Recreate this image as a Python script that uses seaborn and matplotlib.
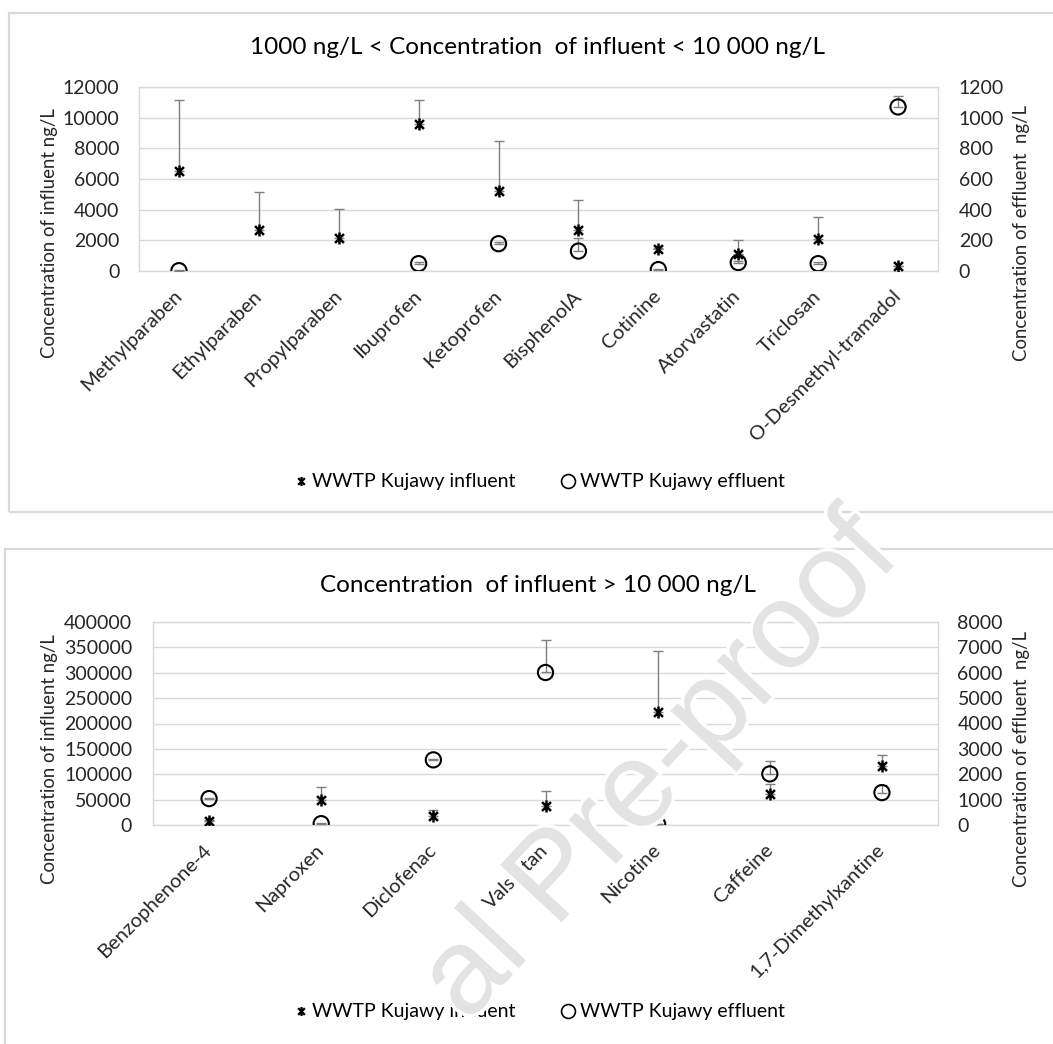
import numpy as np
import pandas as pd
import matplotlib
matplotlib.use("Agg")
import matplotlib.pyplot as plt
import seaborn as sns
from matplotlib.path import Path
from matplotlib.lines import Line2D
from matplotlib.patches import Rectangle
import matplotlib.patheffects as pe

# ---------------- data ----------------
top_title = "1000 ng/L < Concentration  of influent < 10 000 ng/L"
top_categories = ["Methylparaben", "Ethylparaben", "Propylparaben", "Ibuprofen", "Ketoprofen",
                  "BisphenolA", "Cotinine", "Atorvastatin", "Triclosan", "O-Desmethyl-tramadol"]
top_influent = [6500, 2700, 2170, 9580, 5250, 2650, 1450, 1130, 2090, 300]
top_influent_err = [4650, 2430, 1870, 1550, 3250, 2000, 60, 870, 1430, 50]
top_effluent = [2, np.nan, np.nan, 48, 178, 130, 9, 55, 48, 1070]
top_effluent_err = [5, np.nan, np.nan, 10, 10, 83, 5, 10, 10, 73]
top_left_ticks = [0, 2000, 4000, 6000, 8000, 10000, 12000]
top_right_ticks = [0, 200, 400, 600, 800, 1000, 1200]

bottom_title = "Concentration  of influent > 10 000 ng/L"
bottom_categories = ["Benzophenone-4", "Naproxen", "Diclofenac", "Valsartan", "Nicotine",
                     "Caffeine", "1,7-Dimethylxantine"]
bottom_influent = [8500, 48600, 17700, 36900, 223400, 61700, 115600]
bottom_influent_err = [1500, 26300, 12000, 29800, 119100, 19200, 22000]
bottom_effluent = [1040, 53, 2567, 6010, 26, 2014, 1277]
bottom_effluent_err = [20, 20, 50, 1270, 20, 520, 300]
bottom_left_ticks = [0, 50000, 100000, 150000, 200000, 250000, 300000, 350000, 400000]
bottom_right_ticks = [0, 1000, 2000, 3000, 4000, 5000, 6000, 7000, 8000]

left_label = "Concentration of influent ng/L"
right_label = "Concentration of effluent  ng/L"
series_names = ["WWTP Kujawy influent", "WWTP Kujawy effluent"]
watermark = "al Pre-proof"

# ---------------- style ----------------
sns.set_theme(style="white")
plt.rcParams["font.family"] = ["Lato", "DejaVu Sans"]
plt.rcParams["text.color"] = "black"

GRID = "#d9d9d9"
ERR = "#7f7f7f"
star = Path([(-1, -1), (1, 1), (-1, 1), (1, -1), (0, -1.35), (0, 1.35)],
            [Path.MOVETO, Path.LINETO] * 3)

fig = plt.figure(figsize=(10.53, 10.44), dpi=100)
W, H = 1053, 1044


def px_rect(l, t, r, b):
    return [l / W, 1 - b / H, (r - l) / W, (b - t) / H]


# outer chart boxes
fig.patches.append(Rectangle((9 / W, 1 - 512 / H), 1.2, (512 - 13) / H, transform=fig.transFigure,
                             fill=False, edgecolor=GRID, linewidth=1.6, zorder=0))
fig.patches.append(Rectangle((5 / W, -0.2), 1.2, 0.2 + 1 - 549 / H, transform=fig.transFigure,
                             fill=False, edgecolor=GRID, linewidth=1.6, zorder=0))


def panel(rect, cats, infl, infl_err, effl, effl_err, lticks, rticks, title, title_y,
          legend_y, ylab_x_px, ylab_y_px, lpad, rpad):
    ax = fig.add_axes(px_rect(*rect))
    l, t, r, b = rect
    n = len(cats)
    x = np.arange(n)
    df = pd.DataFrame({"x": x, "infl": infl, "effl": effl})
    ax.errorbar(x, infl, yerr=[np.zeros(n), infl_err], fmt="none", ecolor=ERR,
                elinewidth=1.0, capsize=3.5, capthick=1.0, zorder=2)
    sns.scatterplot(data=df, x="x", y="infl", ax=ax, marker=star, s=75, color="black",
                    edgecolor="black", linewidth=1.8, zorder=3, legend=False)
    ax.set_xlim(-0.5, n - 0.5)
    ax.set_ylim(lticks[0], lticks[-1])
    ax.set_yticks(lticks)
    ax.set_yticklabels([str(t_) for t_ in lticks], fontsize=14)
    ax.set_xticks(x)
    ax.set_xticklabels(cats, rotation=45, ha="right", va="center", rotation_mode="anchor",
                       fontsize=14.5)
    ax.tick_params(axis="x", length=0, pad=16)
    ax.tick_params(axis="y", length=0, pad=lpad)
    ax.grid(axis="y", color=GRID, linewidth=1.0)
    ax.set_axisbelow(True)
    for s in ax.spines.values():
        s.set_color(GRID)
        s.set_linewidth(1.0)
    ax.set_xlabel("")
    ax.set_ylabel(left_label, fontsize=13.4)
    yc = (b - ylab_y_px) / (b - t)
    ax.yaxis.set_label_coords((ylab_x_px[0] - l) / (r - l), yc)

    ax2 = ax.twinx()
    ax2.errorbar(x, effl, yerr=[np.zeros(n), effl_err], fmt="none", ecolor=ERR,
                 elinewidth=1.0, capsize=3.5, capthick=1.0, zorder=2)
    sns.scatterplot(data=df, x="x", y="effl", ax=ax2, marker="o", s=120, facecolor="none",
                    edgecolor="black", linewidth=1.5, zorder=3, legend=False)
    ax2.set_ylim(rticks[0], rticks[-1])
    ax2.set_yticks(rticks)
    ax2.set_yticklabels([str(t_) for t_ in rticks], fontsize=14)
    ax2.tick_params(axis="y", length=0, pad=rpad)
    ax2.grid(False)
    for s in ax2.spines.values():
        s.set_visible(False)
    ax2.set_ylabel(right_label, fontsize=13.4)
    ax2.yaxis.set_label_coords((ylab_x_px[1] - l) / (r - l), yc)
    ax2.set_xlabel("")

    fig.text(538 / W, 1 - title_y / H, title, ha="center", va="center", fontsize=17.5)
    handles = [Line2D([], [], linestyle="none", marker=star, markersize=6.5, markeredgewidth=1.6,
                      color="black"),
               Line2D([], [], linestyle="none", marker="o", markersize=10, markeredgewidth=1.2,
                      markerfacecolor="none", markeredgecolor="black")]
    fig.legend(handles, series_names, loc="center", bbox_to_anchor=(538 / W, 1 - legend_y / H),
               ncol=2, frameon=False, fontsize=14, handletextpad=0.1, columnspacing=2.2,
               handlelength=1.0)
    return ax, ax2


panel((139, 87, 938, 271), top_categories, top_influent, top_influent_err, top_effluent,
      top_effluent_err, top_left_ticks, top_right_ticks, top_title, 47, 482, (58, 1013), 233,
      14, 15)
panel((153, 622, 938, 825), bottom_categories, bottom_influent, bottom_influent_err,
      bottom_effluent, bottom_effluent_err, bottom_left_ticks, bottom_right_ticks,
      bottom_title, 586, 1012, (58, 1013), 759, 15, 14)

# watermark
fig.text(485 / W, 1 - 1041 / H, watermark, ha="left", va="bottom", rotation=47,
         rotation_mode="anchor", fontsize=88, color="#e3e3e3",
         family=["Liberation Sans", "DejaVu Sans"], zorder=20,
         path_effects=[pe.Stroke(linewidth=5, foreground="white"), pe.Normal()])

fig.savefig("out.png", dpi=100, facecolor="white")
